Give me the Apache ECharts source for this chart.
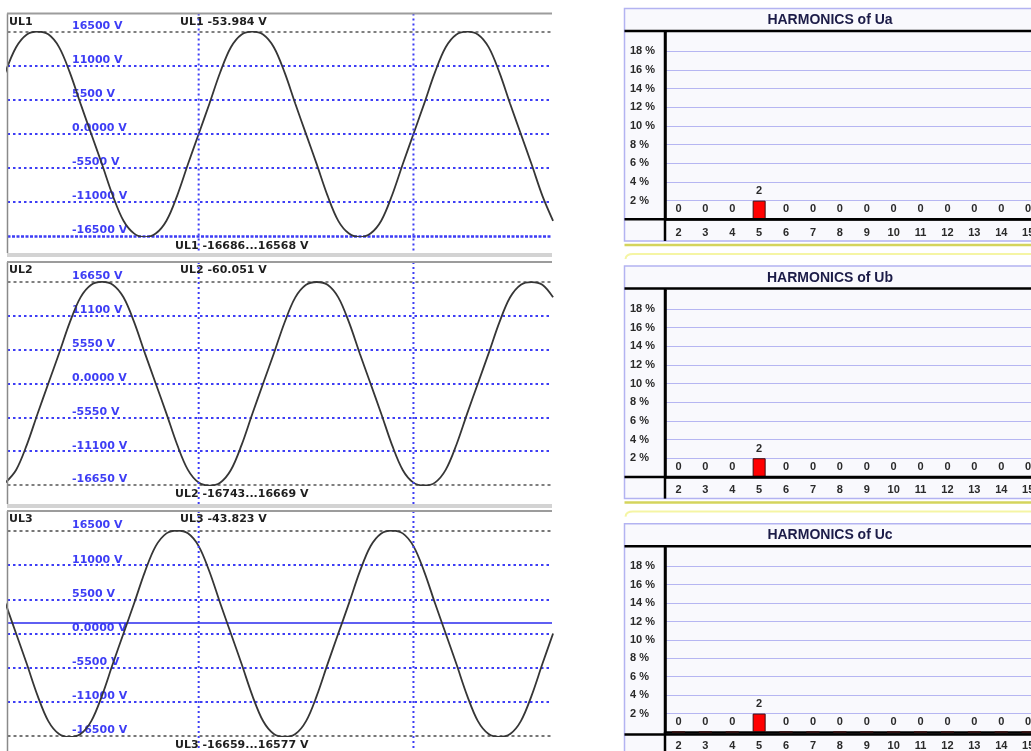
<!DOCTYPE html>
<html>
<head>
<meta charset="utf-8">
<script src="https://cdn.jsdelivr.net/npm/echarts@6/dist/echarts.min.js"></script>
<style>
  html, body { margin: 0; padding: 0; overflow: hidden; background: #fff; }
  #main { width: 1045px; height: 751px; }
</style>
</head>
<body>
<div id="main"></div>
<script>
// ---- waveform data: phase voltages sampled every 1 ms ----
const sampleTimeMs = [0,1,2,3,4,5,6,7,8,9,10,11,12,13,14,15,16,17,18,19,20,21,22,23,24,25,
  26,27,28,29,30,31,32,33,34,35,36,37,38,39,40,41,42,43,44,45,46,47,48,49,50,51];

const ul1 = [9960,14030,16100,16568,16120,14050,9970,4910,-10,-4890,
  -9950,-14040,-16120,-16686,-16110,-14030,-9960,-4900,0,4900,
  9950,14040,16110,16560,16100,14040,9960,4890,-20,-4910,
  -9970,-14050,-16110,-16670,-16100,-14030,-9950,-4890,10,4910,
  9960,14030,16100,16550,16110,14050,9970,4900,-10,-4900,
  -9960,-14040];

const ul2 = [-16260,-14180,-10060,-4950,0,4930,10020,14130,16200,16669,
  16210,14140,10030,4940,10,-4940,-10050,-14170,-16250,-16743,
  -16270,-14190,-10070,-4960,-10,4920,10010,14120,16190,16650,
  16200,14130,10020,4930,0,-4950,-10060,-14180,-16260,-16720,
  -16260,-14170,-10050,-4940,10,4940,10030,14140,16210,16640,
  16200,14130];

const ul3 = [4900,0,-4920,-10000,-14100,-16180,-16659,-16180,-14100,-10000,
  -4920,0,4900,9970,14060,16120,16577,16130,14070,9980,
  4910,10,-4910,-9990,-14090,-16170,-16640,-16190,-14110,-10010,
  -4930,-10,4890,9960,14050,16110,16560,16120,14060,9970,
  4900,0,-4920,-10000,-14100,-16180,-16630,-16180,-14100,-10000,
  -4920,0];

const traceNames = ['UL1', 'UL2', 'UL3'];
const traceMeanText = ['-53.984 V', '-60.051 V', '-43.823 V'];
const voltageRanges = [16500, 16650, 16500];     // full-scale value of each trace
const voltageSteps = [5500, 5550, 5500];         // grid step of each trace
const cursorTimesMs = [18, 38];                  // vertical cursor lines
const triggerLevelUL3 = 1700;                    // solid level line on UL3
const timeWindowMs = [0.2, 50.9];

// ---- harmonics data (% of fundamental) ----
const harmonicOrders = ['2','3','4','5','6','7','8','9','10','11','12','13','14','15'];
const harmonicsUa = [0,0,0,2,0,0,0,0,0,0,0,0,0,0];
const harmonicsUb = [0,0,0,2,0,0,0,0,0,0,0,0,0,0];
const harmonicsUc = [0,0,0,2,0,0,0,0,0,0,0,0,0,0];
const harmonicTitles = ['HARMONICS of Ua', 'HARMONICS of Ub', 'HARMONICS of Uc'];

// ---- layout ----
const SCOPE_FONT = '"DejaVu Sans", Verdana, sans-serif';
const BAR_FONT = '"Liberation Sans", Arial, sans-serif';
const BLUE = '#3d3df5';
const DARK = '#1e1e1e';

const scopeLeft = 7.5, scopeRight = 552;
const scopeBorder = [13.5, 262, 511];
const scopeTopLine = [32, 282, 531];
const scopeBottomLine = [236, 485, 736];
const scopeEnd = [253, 504, 751];
const scopeBottomText = [246, 494, 745];

const barLeft = 665, barBandCount = harmonicOrders.length, barBand = 26.9;
const barBaseline = [219.3, 476.9, 734.5];
const barPlotHeight = 186.7;
const boxLeft = 624.5, boxRight = 1045;

const chart = echarts.init(document.getElementById('main'));

const grids = [], xAxes = [], yAxes = [], series = [];
const traceData = [ul1, ul2, ul3];

traceData.forEach((values, k) => {
  const R = voltageRanges[k];
  grids.push({ left: scopeLeft, top: scopeTopLine[k], width: scopeRight - scopeLeft,
               height: scopeBottomLine[k] - scopeTopLine[k] });
  xAxes.push({ type: 'value', gridIndex: k, min: timeWindowMs[0], max: timeWindowMs[1], show: false });
  yAxes.push({
    type: 'value', gridIndex: k, min: -R, max: R, interval: voltageSteps[k],
    axisLine: { show: false }, axisTick: { show: false },
    splitLine: { show: true, showMinLine: false, showMaxLine: false,
                 lineStyle: { color: BLUE, type: [2.5, 3], width: 2 } },
    axisLabel: {
      inside: true, margin: 64.5, align: 'left', verticalAlign: 'bottom',
      color: BLUE, fontFamily: SCOPE_FONT, fontWeight: 'bold', fontSize: 11,
      formatter: v => (v === 0 ? '0.0000' : String(v)) + ' V'
    }
  });
  const dashed = { color: '#555', type: [3, 3], width: 1.6 };
  const levels = [
    { yAxis: R, lineStyle: dashed },
    { yAxis: -R, lineStyle: k === 0 ? { color: BLUE, type: [3, 1.5], width: 2.6 } : dashed }
  ];
  if (k === 2) levels.push({ yAxis: triggerLevelUL3, lineStyle: { color: '#2a2aee', type: 'solid', width: 1.6 } });
  series.push({
    type: 'line', xAxisIndex: k, yAxisIndex: k,
    data: sampleTimeMs.map((t, i) => [t, values[i]]),
    smooth: 0.35, symbol: 'none', silent: true, z: 5,
    lineStyle: { color: '#363636', width: 1.8 },
    markLine: { silent: true, symbol: ['none', 'none'], label: { show: false },
                animation: false, data: levels }
  });
});

[harmonicsUa, harmonicsUb, harmonicsUc].forEach((values, j) => {
  const gi = 3 + j;
  grids.push({ left: barLeft, top: barBaseline[j] - barPlotHeight,
               width: barBand * barBandCount, height: barPlotHeight });
  xAxes.push({
    type: 'category', gridIndex: gi, data: harmonicOrders,
    axisLine: { lineStyle: { color: '#000', width: 2.5 } }, axisTick: { show: false },
    axisLabel: { color: '#2a2a2a', fontFamily: BAR_FONT, fontWeight: 'bold', fontSize: 11, margin: 8 }
  });
  yAxes.push({
    type: 'value', gridIndex: gi, min: 0, max: 20, interval: 2,
    axisLine: { show: true, lineStyle: { color: '#000', width: 2.5 } }, axisTick: { show: false },
    splitLine: { show: true, showMinLine: false, showMaxLine: false,
                 lineStyle: { color: '#b6b6f2', width: 1 } },
    axisLabel: {
      align: 'left', margin: 35, color: '#2a2a2a', fontFamily: BAR_FONT, fontWeight: 'bold', fontSize: 11,
      formatter: v => (v === 0 || v === 20) ? '' : v + ' %'
    }
  });
  series.push({
    type: 'bar', xAxisIndex: gi, yAxisIndex: gi, data: values, barWidth: 13, silent: true,
    itemStyle: { color: '#ff0000', borderColor: '#3a1010', borderWidth: 1 },
    label: { show: true, position: 'top', distance: 4, color: '#2a2a2a',
             fontFamily: BAR_FONT, fontWeight: 'bold', fontSize: 11 }
  });
});

chart.setOption({
  backgroundColor: '#ffffff',
  animation: false,
  grid: grids, xAxis: xAxes, yAxis: yAxes, series: series
});

// ---- panel frames, cursors and captions ----
const g = [];
traceData.forEach((values, k) => {
  g.push({ type: 'line', z: 10, shape: { x1: scopeLeft, y1: scopeBorder[k], x2: scopeLeft, y2: scopeEnd[k] },
           style: { stroke: '#8a8a8a', lineWidth: 1.5 } });
  g.push({ type: 'line', z: 10, shape: { x1: scopeLeft - 0.5, y1: scopeBorder[k], x2: scopeRight, y2: scopeBorder[k] },
           style: { stroke: '#9c9c9c', lineWidth: 2 } });
  if (k < 2) {
    g.push({ type: 'rect', z: 10, shape: { x: scopeLeft - 0.5, y: scopeEnd[k], width: scopeRight - scopeLeft + 0.5, height: 4 },
             style: { fill: '#d3d3d3' } });
  }
  cursorTimesMs.forEach(t => {
    const px = chart.convertToPixel({ xAxisIndex: k }, t);
    g.push({ type: 'line', z: 9, shape: { x1: px, y1: scopeBorder[k], x2: px, y2: scopeEnd[k] },
             style: { stroke: BLUE, lineWidth: 2, lineDash: [2, 3] } });
  });
  const cy = scopeBorder[k] + 8.5;
  g.push({ type: 'text', z: 11, x: 9, y: cy,
           style: { text: traceNames[k], font: 'bold 11px ' + SCOPE_FONT, fill: DARK, verticalAlign: 'middle' } });
  g.push({ type: 'text', z: 11, x: 180, y: cy,
           style: { text: traceNames[k] + ' ' + traceMeanText[k], font: 'bold 11px ' + SCOPE_FONT, fill: DARK, verticalAlign: 'middle' } });
  const lo = Math.min(...values), hi = Math.max(...values);
  g.push({ type: 'text', z: 11, x: 175, y: scopeBottomText[k],
           style: { text: traceNames[k] + ' ' + lo + '...' + hi + ' V', font: 'bold 11px ' + SCOPE_FONT, fill: DARK, verticalAlign: 'middle' } });
});

barBaseline.forEach((base, j) => {
  const titleLine = base - barPlotHeight - 1.6;
  const boxTop = titleLine - 22.5;
  const boxBottom = base + 21.7;
  g.push({ type: 'rect', z: -10, shape: { x: boxLeft, y: boxTop, width: boxRight - boxLeft + 20, height: boxBottom - boxTop },
           style: { fill: '#f9f9fd', stroke: '#b3b3f1', lineWidth: 1.5 } });
  g.push({ type: 'text', z: 11, x: 830, y: (boxTop + titleLine) / 2 + 0.5,
           style: { text: harmonicTitles[j], font: 'bold 14px ' + BAR_FONT, fill: '#1c1c48',
                    align: 'center', verticalAlign: 'middle' } });
  g.push({ type: 'line', z: 10, shape: { x1: boxLeft, y1: titleLine, x2: boxRight, y2: titleLine },
           style: { stroke: '#000', lineWidth: 2.5 } });
  g.push({ type: 'line', z: 10, shape: { x1: barLeft, y1: titleLine, x2: barLeft, y2: boxBottom },
           style: { stroke: '#000', lineWidth: 2.5 } });
  g.push({ type: 'line', z: 10, shape: { x1: boxLeft, y1: base, x2: boxRight, y2: base },
           style: { stroke: '#000', lineWidth: 2.5 } });
  if (j < 2) {
    g.push({ type: 'line', z: 10, shape: { x1: boxLeft, y1: base + 25.7, x2: boxRight, y2: base + 25.7 },
             style: { stroke: '#d4d45c', lineWidth: 2.5 } });
    const yy = base + 34.7;
    g.push({ type: 'line', z: 10, shape: { x1: 633, y1: yy, x2: boxRight, y2: yy },
             style: { stroke: '#f5f5a4', lineWidth: 2 } });
    g.push({ type: 'bezierCurve', z: 10,
             shape: { x1: 633, y1: yy, cpx1: 626, cpy1: yy, x2: 625.5, y2: yy + 5 },
             style: { stroke: '#f5f5a4', lineWidth: 2, fill: 'none' } });
  }
});

chart.setOption({ graphic: g });
</script>
</body>
</html>
